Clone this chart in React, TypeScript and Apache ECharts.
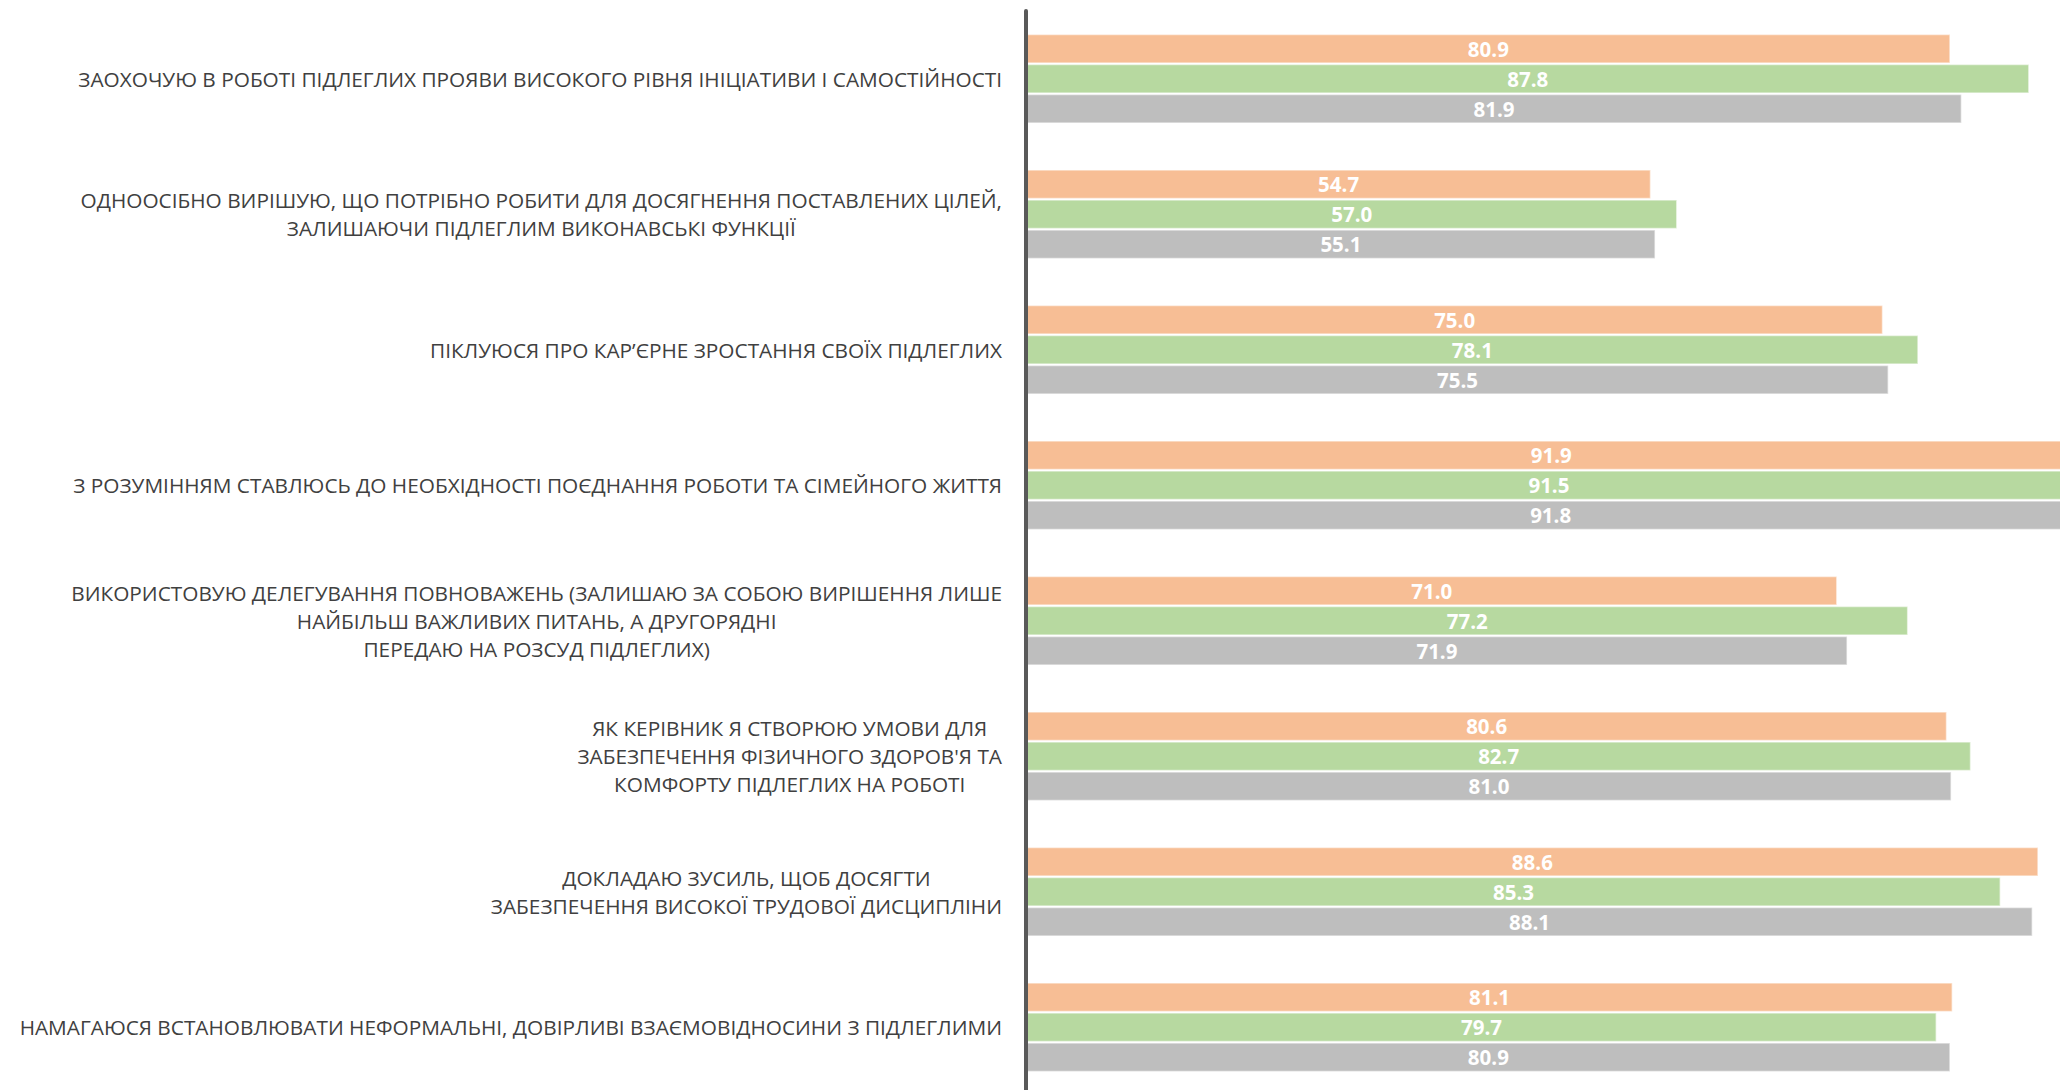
import React, { useEffect, useRef } from "react";
import * as echarts from "echarts";

const categories: string[] = [
  "ЗАОХОЧУЮ В РОБОТІ ПІДЛЕГЛИХ ПРОЯВИ ВИСОКОГО РІВНЯ ІНІЦІАТИВИ І САМОСТІЙНОСТІ",
  "ОДНООСІБНО ВИРІШУЮ, ЩО ПОТРІБНО РОБИТИ ДЛЯ ДОСЯГНЕННЯ ПОСТАВЛЕНИХ ЦІЛЕЙ,\nЗАЛИШАЮЧИ ПІДЛЕГЛИМ ВИКОНАВСЬКІ ФУНКЦІЇ",
  "ПІКЛУЮСЯ ПРО КАР’ЄРНЕ ЗРОСТАННЯ СВОЇХ ПІДЛЕГЛИХ",
  "З РОЗУМІННЯМ СТАВЛЮСЬ ДО НЕОБХІДНОСТІ ПОЄДНАННЯ РОБОТИ ТА СІМЕЙНОГО ЖИТТЯ",
  "ВИКОРИСТОВУЮ ДЕЛЕГУВАННЯ ПОВНОВАЖЕНЬ (ЗАЛИШАЮ ЗА СОБОЮ ВИРІШЕННЯ ЛИШЕ\nНАЙБІЛЬШ ВАЖЛИВИХ ПИТАНЬ, А ДРУГОРЯДНІ\nПЕРЕДАЮ НА РОЗСУД ПІДЛЕГЛИХ)",
  "ЯК КЕРІВНИК Я СТВОРЮЮ УМОВИ ДЛЯ\nЗАБЕЗПЕЧЕННЯ ФІЗИЧНОГО ЗДОРОВ'Я ТА\nКОМФОРТУ ПІДЛЕГЛИХ НА РОБОТІ",
  "ДОКЛАДАЮ ЗУСИЛЬ, ЩОБ ДОСЯГТИ\nЗАБЕЗПЕЧЕННЯ ВИСОКОЇ ТРУДОВОЇ ДИСЦИПЛІНИ",
  "НАМАГАЮСЯ ВСТАНОВЛЮВАТИ НЕФОРМАЛЬНІ, ДОВІРЛИВІ ВЗАЄМОВІДНОСИНИ З ПІДЛЕГЛИМИ",
];

const seriesNames: string[] = ["Група 1", "Група 2", "Група 3"];
const orangeValues: number[] = [80.9, 54.7, 75.0, 91.9, 71.0, 80.6, 88.6, 81.1];
const greenValues: number[] = [87.8, 57.0, 78.1, 91.5, 77.2, 82.7, 85.3, 79.7];
const greyValues: number[] = [81.9, 55.1, 75.5, 91.8, 71.9, 81.0, 88.1, 80.9];
const seriesColors: string[] = ["#F7BE95", "#B7D9A0", "#BEBEBE"];

export default function App() {
  const ref = useRef<HTMLDivElement>(null);

  useEffect(() => {
    if (!ref.current) return;
    const chart = echarts.init(ref.current, null, { renderer: "svg" });
    const allValues = [orangeValues, greenValues, greyValues];
    chart.setOption({
      animation: false,
      backgroundColor: "#ffffff",
      grid: {
        left: 1026,
        top: 11,
        width: 1143,
        height: 1084,
        containLabel: false,
        outerBoundsMode: "none",
      },
      xAxis: {
        type: "value",
        min: 0,
        max: 100,
        show: false,
        splitLine: { show: false },
      },
      yAxis: {
        type: "category",
        inverse: true,
        offset: 2,
        data: categories,
        axisTick: { show: false },
        axisLine: { show: true, lineStyle: { color: "#595959", width: 4 } },
        axisLabel: {
          margin: 22,
          align: "right",
          formatter: (v: string) =>
            v
              .split("\n")
              .map((l) => "{c|" + l + "}")
              .join("\n"),
          rich: {
            c: {
              align: "center",
              fontFamily: "Open Sans",
              fontSize: 20.8,
              lineHeight: 28,
              color: "#404040",
            },
          },
        },
        z: 5,
      },
      series: allValues.map((vals, i) => ({
        name: seriesNames[i],
        type: "bar",
        data: vals,
        barGap: "0%",
        barCategoryGap: "33.6%",
        itemStyle: {
          color: seriesColors[i],
          borderColor: "rgba(255,255,255,0.55)",
          borderWidth: 1.5,
        },
        label: {
          show: true,
          position: "inside",
          color: "#ffffff",
          fontFamily: "Open Sans",
          fontWeight: "bold",
          fontSize: 20.5,
          formatter: (p: any) => Number(p.value).toFixed(1),
        },
      })),
    });
    return () => chart.dispose();
  }, []);

  return (
    <div
      style={{
        position: "fixed",
        left: 0,
        top: 0,
        width: 2060,
        height: 1090,
        overflow: "hidden",
        background: "#ffffff",
      }}
    >
      <div ref={ref} style={{ width: 2200, height: 1100 }} />
    </div>
  );
}
